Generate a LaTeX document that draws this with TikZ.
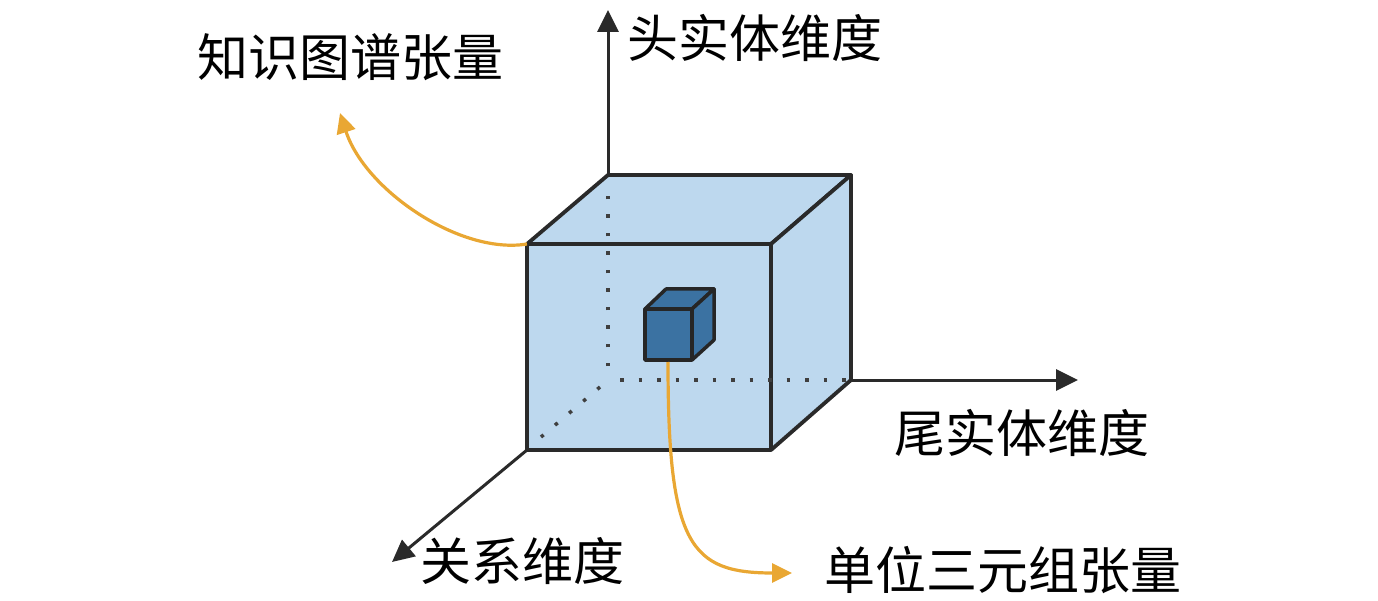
\documentclass[tikz,border=0pt]{standalone}
\usepackage{fontspec}
\newfontfamily\cjk{Noto Sans CJK SC}
\usetikzlibrary{arrows.meta}
\definecolor{cubefill}{HTML}{BDD8EE}
\definecolor{smallfill}{HTML}{3B72A2}
\definecolor{edgecol}{HTML}{2A2A2A}
\definecolor{orangeline}{HTML}{E9A733}
\begin{document}
\begin{tikzpicture}[x=1pt,y=-1pt,
  face/.style={fill=cubefill,draw=edgecol,line width=3.8pt,line join=round},
  sface/.style={fill=smallfill,draw=black!85,line width=3.5pt,line join=round},
  hidden/.style={draw=edgecol!90,line width=3.5pt,dash pattern=on 3.5pt off 15pt},
  axis/.style={draw=edgecol,line width=3pt,-{Triangle[length=22pt,width=21pt]}},
  callout/.style={draw=orangeline,line width=3.2pt,-{Triangle[length=20pt,width=19pt]}},
  lbl/.style={font=\cjk\fontsize{51}{60}\selectfont,text=black,inner sep=0pt}]
\useasboundingbox (0,0) rectangle (1378,601);
% big cube corners
\coordinate (F1) at (527,244);
\coordinate (F2) at (771,244);
\coordinate (F3) at (771,450);
\coordinate (F4) at (527,450);
\coordinate (B1) at (608,175);
\coordinate (B2) at (851,175);
\coordinate (B3) at (851,380);
\coordinate (B4) at (608,380);
% faces
\path[face] (F1) -- (F2) -- (F3) -- (F4) -- cycle;
\path[face] (F1) -- (B1) -- (B2) -- (F2) -- cycle;
\path[face] (F2) -- (B2) -- (B3) -- (F3) -- cycle;
% hidden edges
\coordinate (hv1) at (608,366);
\coordinate (hv2) at (608,192);
\coordinate (hh1) at (620,380);
\coordinate (hd1) at (600,387);
\coordinate (hd2) at (541,437);
\draw[hidden] (hv1) -- (hv2);
\draw[hidden] (hh1) -- (B3);
\draw[hidden] (hd1) -- (hd2);
% axes
\coordinate (Ytip) at (608,10);
\coordinate (Xtip) at (1078,380);
\coordinate (Ztip) at (392,562);
\draw[axis] (B1) -- (Ytip);
\draw[axis] (B3) -- (Xtip);
\draw[axis] (F4) -- (Ztip);
% small cube
\coordinate (s1) at (645,309);
\coordinate (s2) at (692,309);
\coordinate (s3) at (692,360);
\coordinate (s4) at (645,360);
\coordinate (t1) at (666,289);
\coordinate (t2) at (714,289);
\coordinate (t3) at (714,340);
\path[sface] (s1) -- (s2) -- (s3) -- (s4) -- cycle;
\path[sface] (s1) -- (t1) -- (t2) -- (s2) -- cycle;
\path[sface] (s2) -- (t2) -- (t3) -- (s3) -- cycle;
\coordinate (sbot) at (668,362);
% callouts
\coordinate (kgtip) at (340,113);
\coordinate (unittip) at (792,573);
\draw[callout] (F1) .. controls (460,255) and (365,190) .. (kgtip);
\draw[callout] (sbot) .. controls (668,545) and (690,573) .. (unittip);
% labels
\node[lbl] (kg) at (350,57) {知识图谱张量};
\node[lbl] (head) at (755,38) {头实体维度};
\node[lbl] (tail) at (1022,433) {尾实体维度};
\node[lbl] (rel) at (522,561) {关系维度};
\node[lbl] (unit) at (1003,570) {单位三元组张量};
\end{tikzpicture}
\end{document}
